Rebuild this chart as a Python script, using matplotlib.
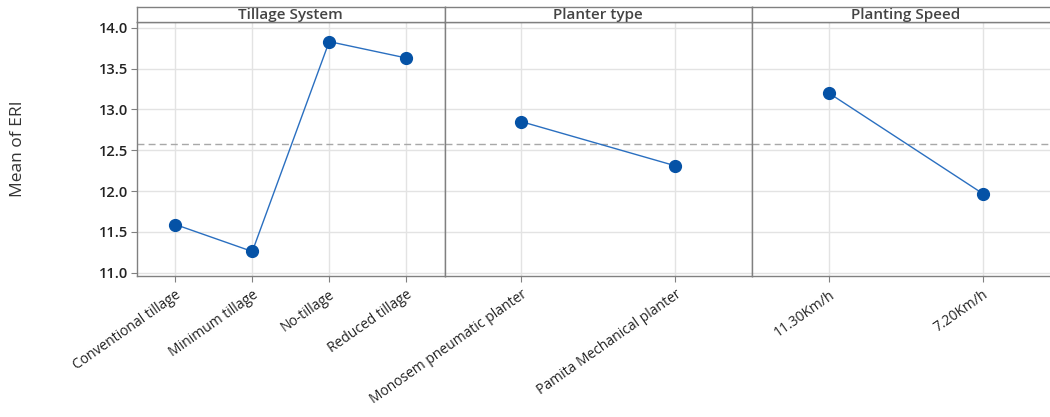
import matplotlib.pyplot as plt
import numpy as np

# main effects for ERI
tillage = ["Conventional tillage", "Minimum tillage", "No-tillage", "Reduced tillage"]
tillage_mean = [11.59, 11.26, 13.83, 13.63]
planter = ["Monosem pneumatic planter", "Pamita Mechanical planter"]
planter_mean = [12.85, 12.31]
speed = ["11.30Km/h", "7.20Km/h"]
speed_mean = [13.20, 11.97]
grand_mean = 12.58

panels = [("Tillage System", tillage, tillage_mean),
          ("Planter type", planter, planter_mean),
          ("Planting Speed", speed, speed_mean)]

plt.rcParams['font.family'] = ['Open Sans', 'DejaVu Sans']

fig = plt.figure(figsize=(10.5, 4.17), dpi=100)

W, H = 1050, 417
left, pw = 137, 307.5
top, bottom = 22, 276

edge = "#808080"
for i, (title, cats, vals) in enumerate(panels):
    x0 = left + i * pw
    ax = fig.add_axes([x0 / W, 1 - bottom / H, pw / W, (bottom - top) / H])
    xs = np.arange(len(cats))
    ax.plot(xs, vals, color="#2a6fc0", lw=1, zorder=3)
    ax.plot(xs, vals, "o", color="#0552a6", ms=8.5, zorder=4)
    ax.axhline(grand_mean, color="#a8a8a8", ls=(0, (5, 3)), lw=1, zorder=2)
    ax.set_xlim(-0.5, len(cats) - 0.5)
    ax.set_ylim(10.96, 14.07)
    ax.set_yticks([11.0, 11.5, 12.0, 12.5, 13.0, 13.5, 14.0])
    ax.set_xticks(xs)
    ax.set_xticklabels(cats, rotation=35, ha="right", rotation_mode="anchor",
                       fontsize=10, color="#222222")
    ax.grid(True, color="#e3e3e3", lw=1, zorder=0)
    ax.tick_params(axis="x", length=4, color=edge, pad=4)
    for s in ax.spines.values():
        s.set_color(edge)
        s.set_linewidth(1)
    if i == 0:
        ax.set_yticklabels([f"{t:.1f}" for t in ax.get_yticks()],
                           fontsize=10.5, fontweight="semibold", color="#222222")
        ax.tick_params(axis="y", length=4, color=edge, pad=2)
        ax.set_ylabel("Mean of ERI", fontsize=12.5, color="#333333", labelpad=0)
        ax.yaxis.set_label_coords(-0.36, 0.5)
    else:
        ax.tick_params(axis="y", left=False, labelleft=False)

    # strip header
    sx = fig.add_axes([x0 / W, 1 - top / H, pw / W, 15 / H])
    sx.set_xticks([])
    sx.set_yticks([])
    for s in sx.spines.values():
        s.set_color(edge)
        s.set_linewidth(1)
    sx.text(0.5, 0.45, title, ha="center", va="center", fontsize=11,
            fontweight="semibold", color="#444444", transform=sx.transAxes)

fig.savefig("out.png", dpi=100)
